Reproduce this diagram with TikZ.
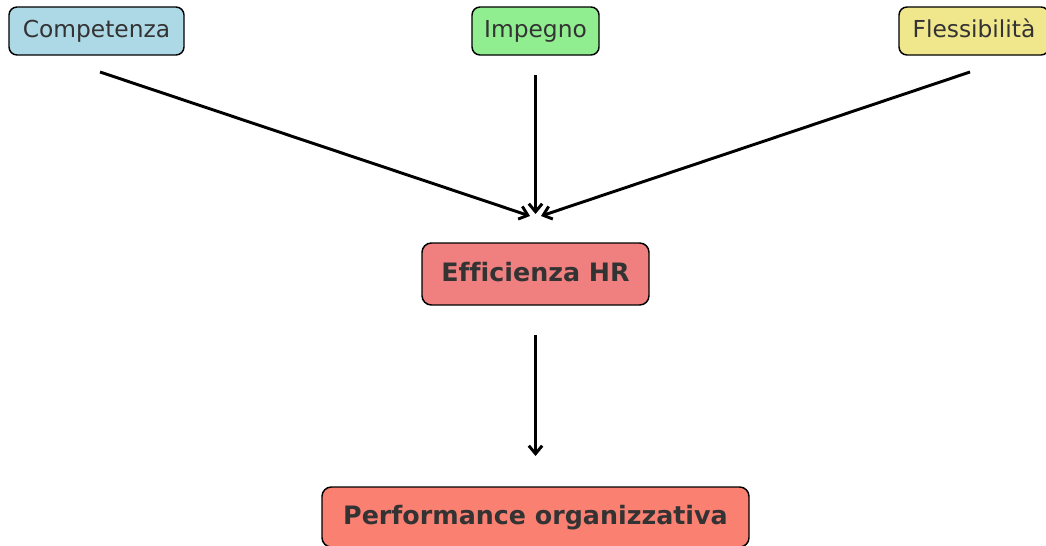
\documentclass[tikz,border=0pt]{standalone}
\usepackage{fontspec}
\setmainfont[Ligatures=NoCommon]{DejaVu Sans}
\usetikzlibrary{positioning,calc,arrows.meta}
\definecolor{lblue}{HTML}{ADD8E6}
\definecolor{lgreen}{HTML}{90EE90}
\definecolor{khaki}{HTML}{F0E68C}
\definecolor{lcoral}{HTML}{F08080}
\definecolor{salmon}{HTML}{FA8072}
\definecolor{txt}{HTML}{333333}

\begin{document}
\begin{tikzpicture}[x=0.75pt,y=-0.75pt]
\tikzstyle{fac} = [draw=black,line width=1.1pt,rounded corners=6pt,inner sep=0pt,
  minimum height=36pt,text height=13pt,text depth=3.5pt,text=txt,
  font=\fontsize{17.5}{20}\selectfont]
\tikzstyle{res} = [draw=black,line width=1.1pt,rounded corners=7pt,inner sep=0pt,
  text height=14pt,text depth=3.5pt,text=txt,font=\fontsize{19}{22}\selectfont\bfseries]
\tikzstyle{link} = [-{Straight Barb[length=6pt,width=10pt]},line width=2.2pt]
\useasboundingbox (0,0) rectangle (1046,546);
\node[fac,fill=lblue,minimum width=131.25pt] (comp) at (96.5,31) {Competenza} ;
\node[fac,fill=lgreen,minimum width=95.25pt] (imp) at (535.5,31) {Impegno} ;
\node[fac,fill=khaki,minimum width=112.5pt] (fless) at (974,31) {Flessibilità} ;
\node[res,fill=lcoral,minimum width=170.25pt,minimum height=46.5pt] (eff) at (535.5,274) {Efficienza HR} ;
\node[res,fill=salmon,minimum width=320.25pt,minimum height=45pt] (perf) at (535.5,517) {Performance organizzativa} ;
% free ends of the arrows
\coordinate (comp-out) at (100,72);
\coordinate (imp-out) at (535.5,75);
\coordinate (fless-out) at (970,72);
\coordinate (eff-in1) at (530,216);
\coordinate (eff-in2) at (535.5,214);
\coordinate (eff-in3) at (541,216);
\coordinate (eff-out) at (535.5,335);
\coordinate (perf-in) at (535.5,456);
\draw [link] (comp-out) -- (eff-in1) ;
\draw [link] (imp-out) -- (eff-in2) ;
\draw [link] (fless-out) -- (eff-in3) ;
\draw [link] (eff-out) -- (perf-in) ;
\end{tikzpicture}
\end{document}
